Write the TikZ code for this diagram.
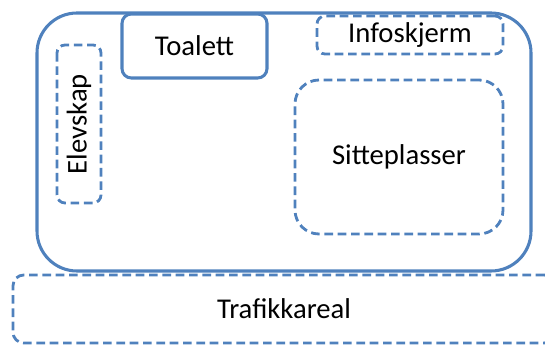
\documentclass[tikz,border=0pt]{standalone}
\usepackage{fontspec}
\setmainfont{Carlito}
\usetikzlibrary{positioning}
\definecolor{roomblue}{HTML}{4F81BD}

\begin{document}
\begin{tikzpicture}[
    x=0.75pt, y=-0.75pt,
    area/.style={rectangle, draw=roomblue, line width=2.3pt, rounded corners=9pt,
                 inner sep=0pt, font=\fontsize{21.5}{25}\selectfont},
    zone/.style={area, line width=2.1pt, dash pattern=on 6.5pt off 3.5pt},
]
    \useasboundingbox (0,0) rectangle (545,345);

    % === rommet ===
    \node[area, rounded corners=30pt, minimum width=370.5pt, minimum height=193.5pt] (rom) at (284,142) {};
    \node[area, rounded corners=7pt, minimum width=108.75pt, minimum height=48pt] (toalett) at (194.5,46) {Toalett};
    \node[zone, rounded corners=6pt, minimum width=139.5pt, minimum height=28.5pt] (info) at (410,35) {Infoskjerm};
    \node[zone, rounded corners=6pt, rotate=90, minimum width=118.5pt, minimum height=33pt] (elevskap) at (79,124) {Elevskap};
    \node[zone, rounded corners=18pt, minimum width=156pt, minimum height=115.5pt] (sitte) at (399,157) {Sitteplasser};

    % === utenfor ===
    \node[zone, rounded corners=8pt, minimum width=406.5pt, minimum height=51pt] (trafikk) at (284,309) {Trafikkareal};

\end{tikzpicture}
\end{document}
